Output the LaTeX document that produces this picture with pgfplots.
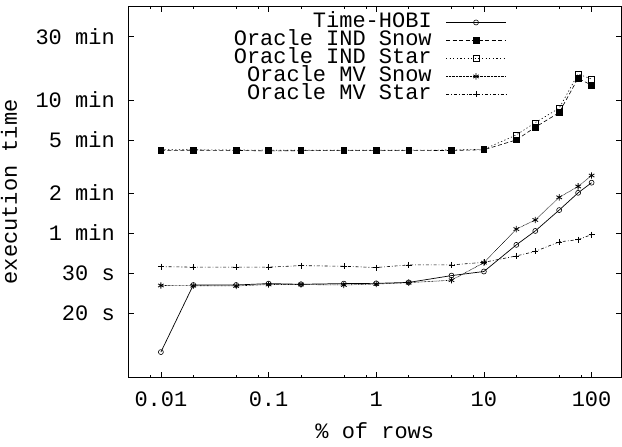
\documentclass[border=0pt]{standalone}
\usepackage{fontspec}
\setmainfont{Liberation Mono}
\usepackage{pgfplots}
\pgfplotsset{compat=1.18}
\newcommand{\bigfont}{\fontsize{22}{26}\selectfont}
\begin{document}
\begin{tikzpicture}
\begin{axis}[
 scale only axis, width=494pt, height=372pt,
 xmode=log, ymode=log,
 xmin=0.00494, xmax=190, ymin=4.87, ymax=3054,
 xtick={0.01,0.1,1,10,100}, xticklabels={0.01,0.1,1,10,100},
 minor xtick={0.008,0.02,0.05,0.08,0.2,0.5,0.8,2,5,8,20,50,80},
 xminorticks=true,
 ytick={15,30,60,120,300,600,1800},
 yticklabels={20 s,30 s,1 min,2 min,5 min,10 min,30 min},
 yminorticks=false,
 major tick length=6pt, minor tick length=3pt,
 every tick/.style={black, line width=0.6pt},
 axis line style={line width=0.8pt},
 tick label style={font=\bigfont, inner sep=0pt},
 xticklabel style={anchor=base, yshift=-29pt},
 yticklabel style={anchor=east, xshift=-13pt},
 xlabel={\% of rows},
 ylabel={execution time},
 every axis x label/.style={at={(rel axis cs:0.5,0)}, anchor=base, yshift=-61pt, font=\bigfont, inner sep=0pt},
 every axis y label/.style={at={(rel axis cs:0,0.5)}, anchor=base, rotate=90, yshift=111pt, font=\bigfont, inner sep=0pt},
 legend style={draw=none, fill=none, at={(0.767,0.975)}, anchor=north east, inner sep=0pt, font=\bigfont,
   nodes={inner sep=0pt, text height=12pt, text depth=2pt}, column sep=14pt, row sep=4pt},
 legend cell align=right,
 legend plot pos=right,
 legend image code/.code={\draw[mark repeat=2,mark phase=2,#1] plot coordinates {(0pt,0pt) (30pt,0pt) (60pt,0pt)};},
]
\coordinate (tl) at (rel axis cs:0,1);
\coordinate (bl) at (rel axis cs:0,0);
\addplot[black, line width=0.7pt, mark=o, mark size=2.5pt, mark options={solid, line width=0.6pt}] coordinates {
(0.01,7.6) (0.02,24.3) (0.05,24.3) (0.1,24.9) (0.2,24.6) (0.5,24.9) (1,25.0) (2,25.4) (5,28.6) (10,30.7) (20,48.7) (30,62) (50,89) (75,120) (100,143)};
\addlegendentry{Time-HOBI}
\addplot[black, line width=0.6pt, dash pattern=on 4pt off 2.5pt, mark=square*, mark size=2.8pt, mark options={solid}] coordinates {
(0.01,250) (0.02,251) (0.05,250) (0.1,248) (0.2,249) (0.5,249) (1,249) (2,249) (5,250) (10,253) (20,300) (30,374) (50,482) (75,874) (100,773)};
\addlegendentry{Oracle IND Snow}
\addplot[black, line width=0.6pt, dash pattern=on 1.2pt off 2.4pt, mark=square, mark size=2.8pt, mark options={solid}] coordinates {
(0.01,253) (0.02,253) (0.05,252) (0.1,251) (0.2,251) (0.5,251) (1,251) (2,251) (5,252) (10,255) (20,327) (30,405) (50,520) (75,941) (100,860)};
\addlegendentry{Oracle IND Star}
\addplot[black, line width=0.6pt, dash pattern=on 0.7pt off 0.7pt, mark=asterisk, mark size=3.2pt, mark options={solid, line width=0.8pt}] coordinates {
(0.01,24.1) (0.02,24.0) (0.05,23.9) (0.1,24.5) (0.2,24.5) (0.5,24.3) (1,24.7) (2,25.3) (5,26.4) (10,35.8) (20,64) (30,75) (50,111) (75,134) (100,162)};
\addlegendentry{Oracle MV Snow}
\addplot[black, line width=0.6pt, dash pattern=on 3pt off 2pt on 0.8pt off 2pt, mark=+, mark size=3pt, mark options={solid}] coordinates {
(0.01,33.4) (0.02,33.1) (0.05,33.1) (0.1,33.1) (0.2,34.0) (0.5,33.6) (1,32.9) (2,34.4) (5,34.4) (10,36.0) (20,40.2) (30,43.5) (50,51.3) (75,53.3) (100,58.2)};
\addlegendentry{Oracle MV Star}
\end{axis}
\path (tl) ++(0pt,6pt);
\path (bl) ++(-128pt,-69pt);
\end{tikzpicture}
\end{document}
